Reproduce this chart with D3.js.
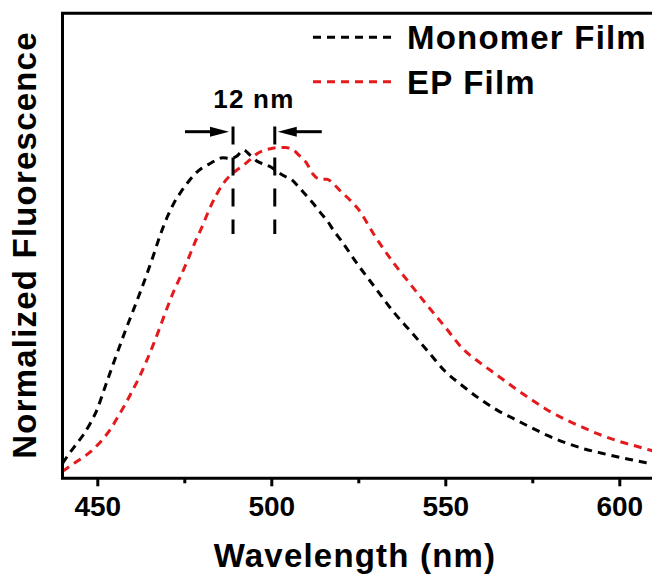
<!DOCTYPE html>
<html>
<head>
<meta charset="utf-8">
<script src="https://cdn.jsdelivr.net/npm/d3@7/dist/d3.min.js"></script>
<style>
  html, body { margin: 0; padding: 0; background: #fff; }
  svg { display: block; }
  text { font-family: "Liberation Sans", Arial, Helvetica, sans-serif; font-weight: bold; fill: #000; }
</style>
</head>
<body>
<svg id="chart" width="652" height="576"></svg>
<script>
// Emission wavelengths (nm)
const wavelengths = [440, 442, 444, 446, 448, 450, 452, 454, 456, 458, 460, 462, 464, 466, 468, 470,
  472, 474, 476, 478, 480, 482, 484, 486, 488, 490, 492, 494, 496, 498, 500, 502, 504, 506, 508,
  510, 512, 514, 516, 518, 520, 525, 530, 535, 540, 545, 550, 555, 560, 565, 570, 575, 580, 585,
  590, 595, 600, 605, 610];

// Normalized fluorescence, monomer film
const monomerFilm = [0.045, 0.076, 0.104, 0.132, 0.167, 0.210, 0.270, 0.330, 0.388, 0.446, 0.500,
  0.555, 0.612, 0.672, 0.735, 0.790, 0.834, 0.868, 0.897, 0.922, 0.940, 0.952, 0.964, 0.972, 0.970,
  0.976, 0.995, 0.979, 0.961, 0.952, 0.943, 0.928, 0.915, 0.904, 0.882, 0.858, 0.834, 0.807, 0.782,
  0.750, 0.722, 0.646, 0.576, 0.506, 0.446, 0.385, 0.324, 0.280, 0.240, 0.206, 0.179, 0.152, 0.127,
  0.106, 0.089, 0.076, 0.064, 0.053, 0.042];

// Normalized fluorescence, EP film
const epFilm = [0.021, 0.036, 0.050, 0.064, 0.080, 0.100, 0.124, 0.152, 0.188, 0.224, 0.264, 0.305,
  0.352, 0.403, 0.458, 0.515, 0.568, 0.614, 0.662, 0.714, 0.760, 0.811, 0.855, 0.891, 0.916, 0.934,
  0.949, 0.967, 0.985, 0.995, 1.000, 1.003, 1.003, 0.998, 0.979, 0.958, 0.922, 0.907, 0.907, 0.891,
  0.870, 0.816, 0.731, 0.655, 0.588, 0.522, 0.458, 0.393, 0.350, 0.312, 0.273, 0.237, 0.203, 0.176,
  0.152, 0.130, 0.112, 0.097, 0.082];

const seriesNames = ["Monomer Film", "EP Film"];
const seriesColors = ["#000000", "#e41a1c"];
const majorTicks = [450, 500, 550, 600];
const minorTicks = [475, 525, 575];

// Peak maxima and the red shift between them
const peakShift = 12;
const monomerPeak = 489;
const epPeak = monomerPeak + peakShift;

const svg = d3.select("#chart");
const plot = { left: 62.5, right: 654.1, top: 13.3, bottom: 478.3 };

const x = d3.scaleLinear().domain([440, 610]).range([plot.left, plot.right]);
const y = d3.scaleLinear().domain([0, 1.41]).range([plot.bottom, plot.top]);

// Spectra
const line = d3.line().curve(d3.curveMonotoneX).x(d => x(d[0])).y(d => y(d[1]));
[monomerFilm, epFilm].forEach((vals, i) => {
  svg.append("path")
    .datum(wavelengths.map((w, k) => [w, vals[k]]))
    .attr("d", line)
    .attr("fill", "none")
    .attr("stroke", seriesColors[i])
    .attr("stroke-width", 3)
    .attr("stroke-dasharray", "8,6");
});

// Frame (top and left edges; the right edge lies past the page)
svg.append("path")
  .attr("d", `M${plot.right},${plot.top}H${plot.left}V${plot.bottom}H${plot.right}`)
  .attr("fill", "none")
  .attr("stroke", "#000")
  .attr("stroke-width", 3);

// Bottom axis: major ticks with labels, minor ticks without
const gx = svg.append("g").attr("transform", `translate(0,${plot.bottom})`)
  .call(d3.axisBottom(x).tickValues(majorTicks).tickSize(8).tickFormat(d3.format("d")));
gx.select(".domain").remove();
gx.selectAll(".tick line").attr("stroke", "#000").attr("stroke-width", 3);
gx.selectAll(".tick text")
  .attr("y", 38).attr("dy", 0)
  .style("font-size", "28px")
  .style("font-family", "\"Liberation Sans\", Arial, sans-serif")
  .style("font-weight", "bold")
  .attr("fill", "#000");

const gm = svg.append("g").attr("transform", `translate(0,${plot.bottom})`)
  .call(d3.axisBottom(x).tickValues(minorTicks).tickSize(5).tickFormat(""));
gm.select(".domain").remove();
gm.selectAll(".tick line").attr("stroke", "#000").attr("stroke-width", 3);

// Axis titles
svg.append("text")
  .attr("x", 355).attr("y", 567)
  .attr("text-anchor", "middle")
  .style("font-size", "33px").style("letter-spacing", "1.2px")
  .text("Wavelength (nm)");

svg.append("text")
  .attr("transform", "translate(36,245) rotate(-90)")
  .attr("text-anchor", "middle")
  .style("font-size", "33px").style("letter-spacing", "1.2px")
  .text("Normalized Fluorescence");

// Legend
const legendRows = [37.3, 81.7];
seriesNames.forEach((name, i) => {
  svg.append("line")
    .attr("x1", 313).attr("x2", 395)
    .attr("y1", legendRows[i]).attr("y2", legendRows[i])
    .attr("stroke", seriesColors[i])
    .attr("stroke-width", 3)
    .attr("stroke-dasharray", "8,6");
  svg.append("text")
    .attr("x", 407).attr("y", legendRows[i] + 12)
    .style("font-size", "33px").style("letter-spacing", "1.2px")
    .text(name);
});

// Peak markers with the shift annotation
const markTop = 126.5, markBottom = 234, arrowY = 131.7;
[monomerPeak, epPeak].forEach(p => {
  svg.append("line")
    .attr("x1", x(p)).attr("x2", x(p))
    .attr("y1", markTop).attr("y2", markBottom)
    .attr("stroke", "#000")
    .attr("stroke-width", 3)
    .attr("stroke-dasharray", "18,13");
});

function arrow(tipX, dir) {
  // dir = +1 points right, -1 points left
  const headLen = 19, tailLen = 44;
  svg.append("line")
    .attr("x1", tipX - dir * tailLen).attr("x2", tipX - dir * (headLen - 2))
    .attr("y1", arrowY).attr("y2", arrowY)
    .attr("stroke", "#000").attr("stroke-width", 3);
  svg.append("path")
    .attr("d", `M${tipX},${arrowY}L${tipX - dir * headLen},${arrowY - 5}L${tipX - dir * headLen},${arrowY + 5}Z`)
    .attr("fill", "#000");
}
arrow(x(monomerPeak) - 4, 1);
arrow(x(epPeak) + 3, -1);

svg.append("text")
  .attr("x", (x(monomerPeak) + x(epPeak)) / 2).attr("y", 108.3)
  .attr("text-anchor", "middle")
  .style("font-size", "26px").style("letter-spacing", "1.2px")
  .text(peakShift + " nm");
</script>
</body>
</html>
